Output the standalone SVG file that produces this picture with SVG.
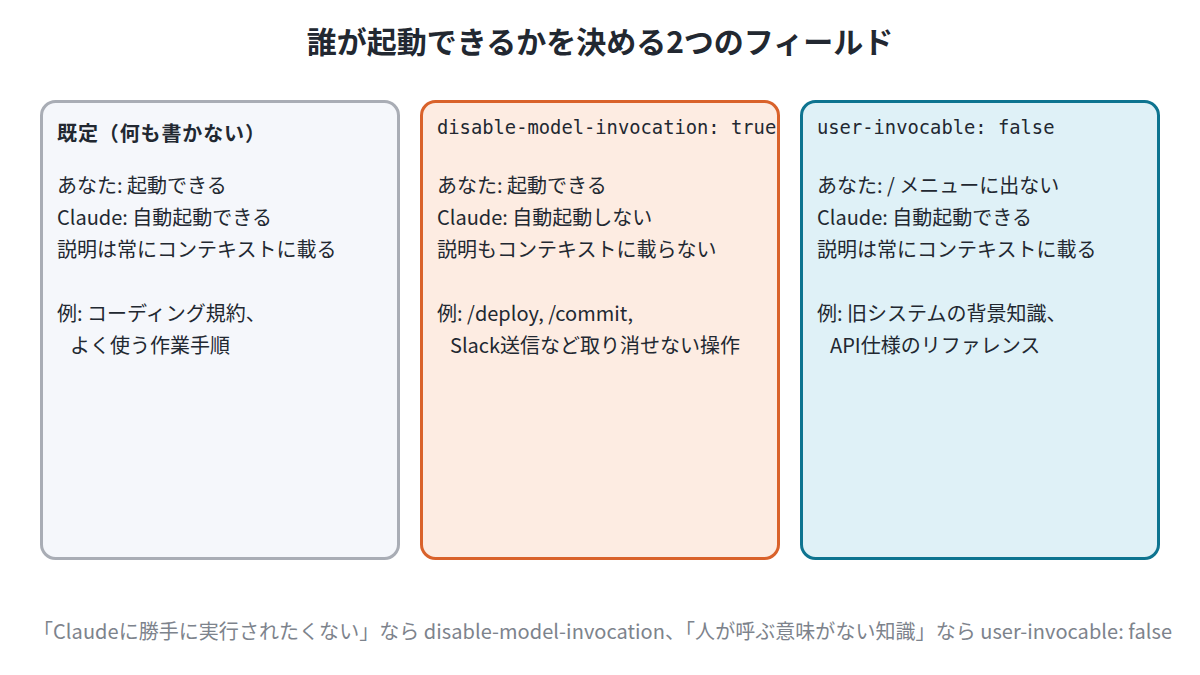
<svg xmlns="http://www.w3.org/2000/svg" width="1200" height="675" viewBox="0 0 1200 675">
<style>
.t{font-family:"Noto Sans CJK JP","Noto Sans",sans-serif;font-size:20px;fill:#222831}
.m{font-family:"DejaVu Sans Mono","Liberation Mono",monospace;font-size:18.8px;fill:#222831}
.b{stroke-width:3}
</style>
<rect width="1200" height="675" fill="#ffffff"/>
<text x="600" y="53" text-anchor="middle" style="font-family:'Noto Sans CJK JP',sans-serif;font-size:30px;font-weight:bold;fill:#222831">誰が起動できるかを決める2つのフィールド</text>
<g id="node-default">
<rect class="b" x="41.5" y="101.5" width="357" height="457" rx="14" fill="#f5f7fb" stroke="#a9adb5"/>
<text class="t" x="57" y="141" font-weight="bold" textLength="208">既定（何も書かない）</text>
<text class="t" x="57" y="193">あなた: 起動できる</text>
<text class="t" x="57" y="225">Claude: 自動起動できる</text>
<text class="t" x="57" y="257">説明は常にコンテキストに載る</text>
<text class="t" x="57" y="321">例: コーディング規約、</text>
<text class="t" x="70" y="353">よく使う作業手順</text>
</g>
<g id="node-disable">
<rect class="b" x="421.5" y="101.5" width="357" height="457" rx="14" fill="#fdece2" stroke="#d9622b"/>
<text class="m" x="437" y="134">disable-model-invocation: true</text>
<text class="t" x="437" y="193">あなた: 起動できる</text>
<text class="t" x="437" y="225">Claude: 自動起動しない</text>
<text class="t" x="437" y="257">説明もコンテキストに載らない</text>
<text class="t" x="437" y="321">例: /deploy, /commit,</text>
<text class="t" x="450" y="353">Slack送信など取り消せない操作</text>
</g>
<g id="node-user">
<rect class="b" x="801.5" y="101.5" width="357" height="457" rx="14" fill="#dff1f7" stroke="#0e7490"/>
<text class="m" x="817" y="134">user-invocable: false</text>
<text class="t" x="817" y="193">あなた: / メニューに出ない</text>
<text class="t" x="817" y="225">Claude: 自動起動できる</text>
<text class="t" x="817" y="257">説明は常にコンテキストに載る</text>
<text class="t" x="817" y="321">例: 旧システムの背景知識、</text>
<text class="t" x="830" y="353">API仕様のリファレンス</text>
</g>
<g id="connectors"></g>
<text x="33" y="639" textLength="1139" style="font-family:'Noto Sans CJK JP',sans-serif;font-size:20px;fill:#7d838c">「Claudeに勝手に実行されたくない」なら disable-model-invocation、「人が呼ぶ意味がない知識」なら user-invocable: false</text>
</svg>
